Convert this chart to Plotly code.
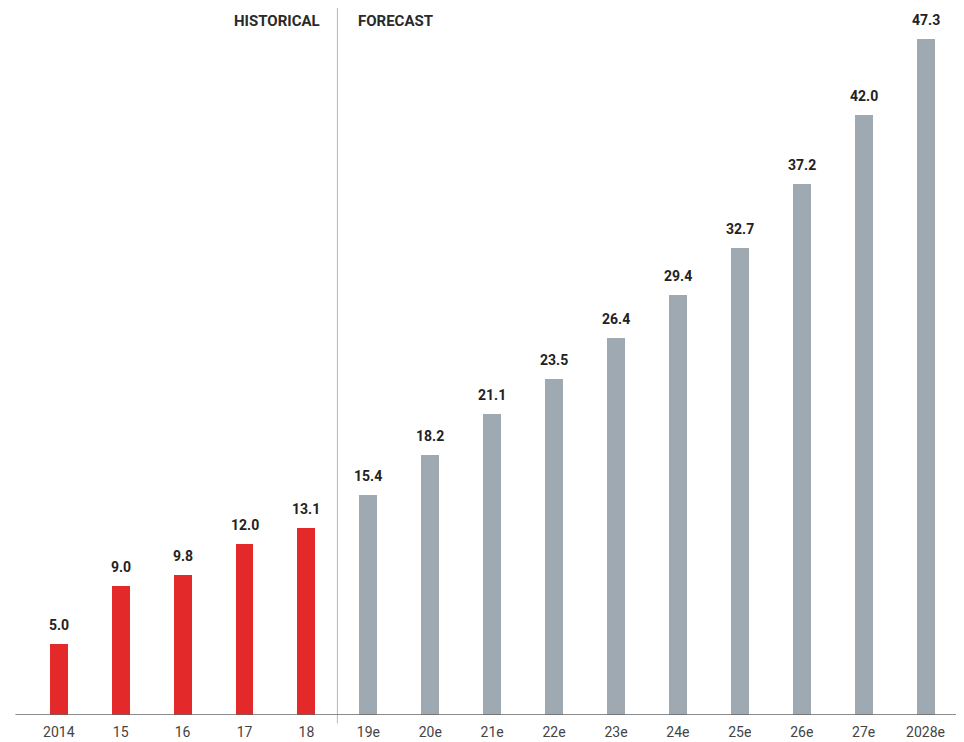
import plotly.graph_objects as go

categories = ["2014", "15", "16", "17", "18", "19e", "20e", "21e", "22e", "23e",
              "24e", "25e", "26e", "27e", "2028e"]
values = [5.0, 9.0, 9.8, 12.0, 13.1, 15.4, 18.2, 21.1, 23.5, 26.4,
          29.4, 32.7, 37.2, 42.0, 47.3]
historical_count = 5
labels_top = ["HISTORICAL", "FORECAST"]

RED = "#e4292a"
GRAY = "#9ea9b1"
colors = [RED if i < historical_count else GRAY for i in range(len(values))]
xs = list(range(len(values)))

fig = go.Figure()
fig.add_trace(go.Bar(
    x=xs, y=values, width=0.29, marker=dict(color=colors, line=dict(width=0)),
    hoverinfo="skip",
))

for i, v in enumerate(values):
    fig.add_annotation(x=i, y=v, text=f"<b>{v:.1f}</b>", showarrow=False,
                       yanchor="bottom", yshift=9,
                       font=dict(family="Roboto", size=14, color="#222"))

split = historical_count - 0.5
fig.add_shape(type="line", xref="x", yref="paper", x0=split, x1=split, y0=-0.012, y1=1.02,
              line=dict(color="#b8b8b8", width=1))
fig.add_shape(type="line", xref="x", yref="y", x0=-0.7, x1=14.72, y0=0, y1=0,
              line=dict(color="#666", width=1.3))

fig.add_annotation(x=split, xref="x", y=0.975, yref="paper", text=f"<b>{labels_top[0]}</b>",
                   showarrow=False, xanchor="right", xshift=-15, yanchor="middle", yshift=5,
                   font=dict(family="Roboto", size=15, color="#2a2a2a"))
fig.add_annotation(x=split, xref="x", y=0.975, yref="paper", text=f"<b>{labels_top[1]}</b>",
                   showarrow=False, xanchor="left", xshift=19, yanchor="middle", yshift=5,
                   font=dict(family="Roboto", size=15, color="#2a2a2a"))

fig.update_layout(
    width=964, height=742, margin=dict(l=0, r=0, t=0, b=35),
    paper_bgcolor="white", plot_bgcolor="white", showlegend=False,
    bargap=0,
    xaxis=dict(range=[-0.82, 14.75], tickvals=xs, ticktext=categories,
               showgrid=False, zeroline=False, showline=False, ticks="",
               ticklabelstandoff=7,
               tickfont=dict(family="Roboto", size=14, color="#444"), fixedrange=True),
    yaxis=dict(range=[0, 49.5], visible=False, showgrid=False, zeroline=False,
               fixedrange=True),
)

fig.write_html("out.html")
